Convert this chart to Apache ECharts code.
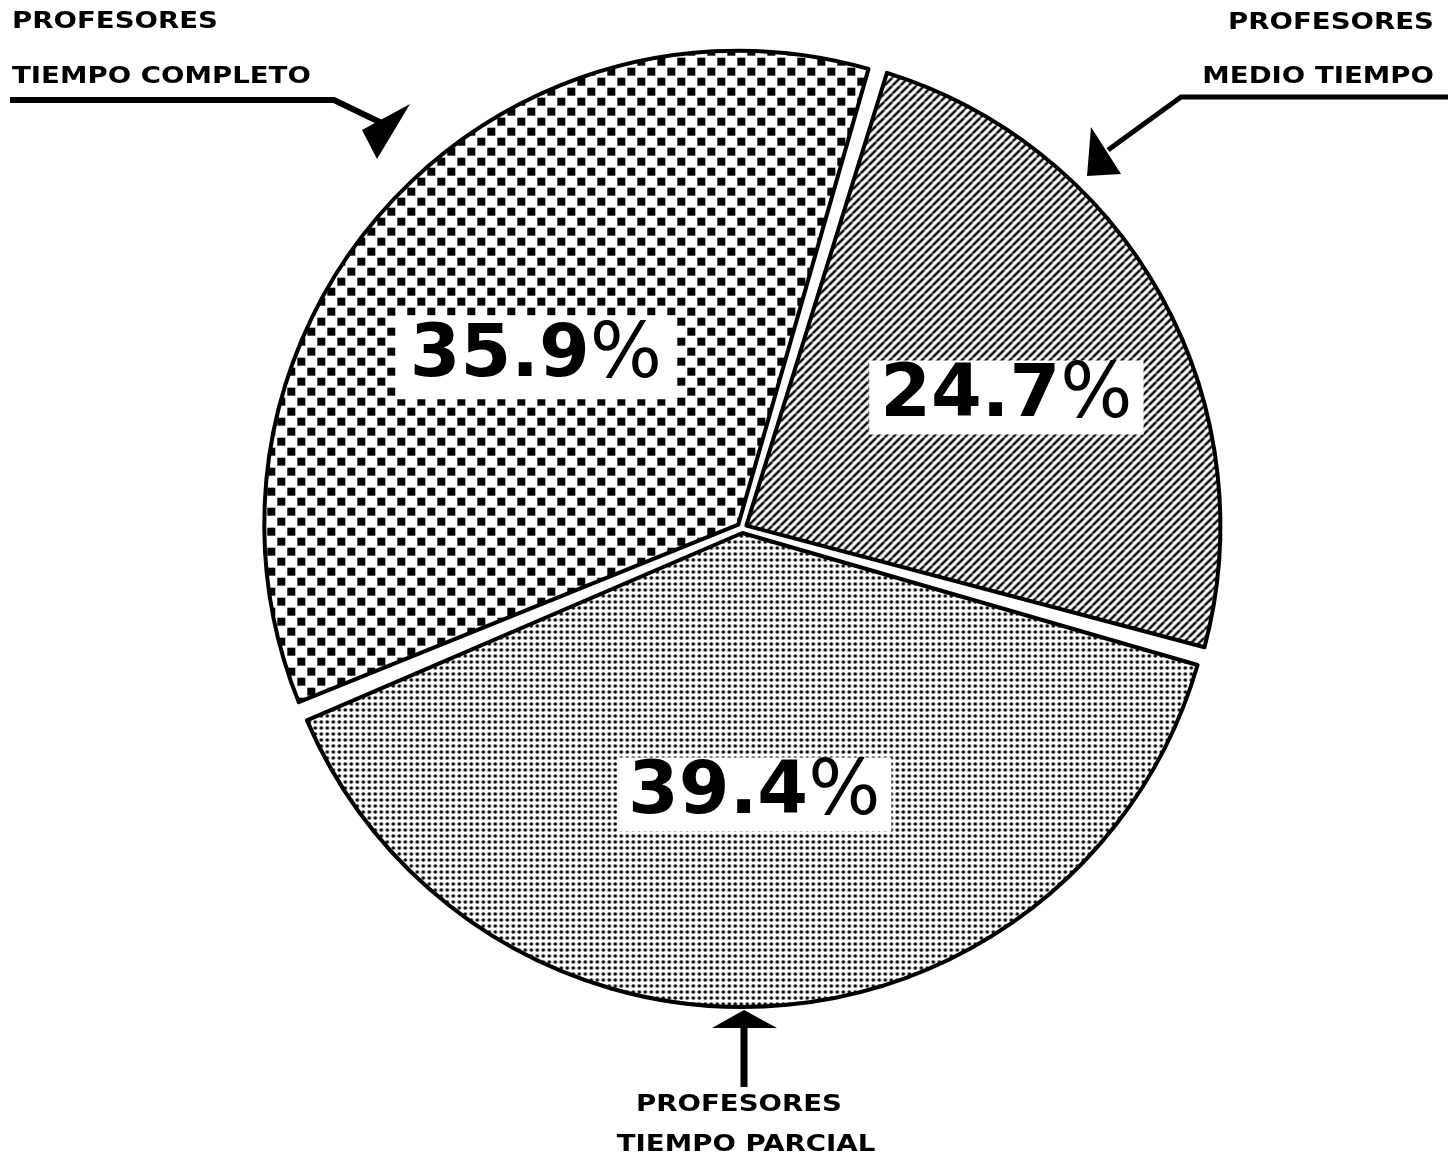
<!DOCTYPE html>
<html>
<head>
<meta charset="utf-8">
<script src="https://cdn.jsdelivr.net/npm/echarts@6/dist/echarts.min.js"></script>
<style>
    html, body { margin: 0; padding: 0; background: #fff; }
    #chart { width: 1448px; height: 1166px; }
</style>
</head>
<body>
<div id="chart"></div>
<script>
// datos del grafico
var categories = ['PROFESORES MEDIO TIEMPO', 'PROFESORES TIEMPO PARCIAL', 'PROFESORES TIEMPO COMPLETO'];
var values = [24.7, 39.4, 35.9];
// rotulos exteriores (dos lineas cada uno)
var outerTitles = [
    ['PROFESORES', 'MEDIO TIEMPO'],
    ['PROFESORES', 'TIEMPO PARCIAL'],
    ['PROFESORES', 'TIEMPO COMPLETO']
];

// desplazamiento de las etiquetas de porcentaje
var labelShift = [[50, -12], [-3, 22], [-24, -7]];
var labelPad = [[8, 11], [8, 11], [13, 14]];

/**
 * tramas en blanco y negro
 */
function makePattern(size, draw) {
    var c = document.createElement('canvas');
    c.width = size;
    c.height = size;
    var ctx = c.getContext('2d');
    ctx.fillStyle = '#fff';
    ctx.fillRect(0, 0, size, size);
    ctx.fillStyle = '#000';
    ctx.strokeStyle = '#000';
    draw(ctx, size);
    return {image: c, repeat: 'repeat'};
}

// rayado diagonal
var hatch = makePattern(8, function (ctx, s) {
    ctx.lineWidth = 2.4;
    ctx.beginPath();
    for (var k = -1; k <= 1; k++) {
        ctx.moveTo(k * s, s);
        ctx.lineTo(k * s + s, 0);
    }
    ctx.stroke();
});
// puntos finos
var dots = makePattern(6, function (ctx, s) {
    ctx.beginPath();
    ctx.arc(3, 3, 1.8, 0, Math.PI * 2);
    ctx.fill();
});
// cuadritos
var checks = makePattern(20, function (ctx, s) {
    ctx.fillRect(1, 1, 8, 8);
    ctx.fillRect(11, 11, 8, 8);
});
var fills = [hatch, dots, checks];

var seriesData = categories.map(function (name, i) {
    return {
        name: name,
        value: values[i],
        selected: true,
        itemStyle: {color: fills[i]},
        label: {padding: labelPad[i]}
    };
});

/**
 * rotulos y flechas
 */
var font = 'bold 23px "DejaVu Sans"';
function caption(x, y, text, align) {
    return {
        type: 'text', x: x, y: y, scaleX: 1.2, silent: true,
        style: {
            text: text, font: font, fill: '#000',
            align: align, verticalAlign: 'middle',
            textAlign: align, textVerticalAlign: 'middle'
        }
    };
}
function stroke(points, width) {
    return {
        type: 'polyline', silent: true,
        shape: {points: points},
        style: {stroke: '#000', lineWidth: width, fill: null}
    };
}
function head(points) {
    return {type: 'polygon', silent: true, shape: {points: points}, style: {fill: '#000'}};
}

var graphics = [
    // tiempo completo
    caption(12, 22, outerTitles[2][0], 'left'),
    caption(12, 77, outerTitles[2][1], 'left'),
    stroke([[10, 100], [334, 100], [392, 128]], 6),
    head([[410, 104], [362, 130], [377, 159]]),
    // medio tiempo
    caption(1434, 23, outerTitles[0][0], 'right'),
    caption(1434, 77, outerTitles[0][1], 'right'),
    stroke([[1448, 97], [1181, 97], [1108, 150]], 5),
    head([[1091, 127], [1087, 176], [1121, 174]]),
    // tiempo parcial
    caption(739, 1105, outerTitles[1][0], 'center'),
    caption(746, 1145, outerTitles[1][1], 'center'),
    stroke([[744, 1087], [744, 1022]], 7),
    head([[744, 1010], [712, 1028], [777, 1028]])
];

var chart = echarts.init(document.getElementById('chart'));
chart.setOption({
    backgroundColor: '#fff',
    animation: false,
    graphic: {elements: graphics},
    series: [{
        type: 'pie',
        center: [742, 528],
        radius: 474,
        startAngle: 73.4,
        clockwise: true,
        padAngle: 1.3,
        selectedMode: 'multiple',
        selectedOffset: 5,
        itemStyle: {borderColor: '#000', borderWidth: 4},
        select: {itemStyle: {borderColor: '#000', borderWidth: 4}},
        emphasis: {disabled: true},
        labelLine: {show: false},
        label: {
            show: true,
            position: 'inside',
            backgroundColor: '#fff',
            formatter: function (p) {
                return '{d|' + p.value.toFixed(1) + '}{p|%}';
            },
            rich: {
                d: {fontFamily: 'DejaVu Sans', fontWeight: 'bold', fontSize: 73, color: '#000', lineHeight: 58},
                p: {fontFamily: 'DejaVu Sans', fontWeight: 'normal', fontSize: 76, color: '#000', lineHeight: 58}
            }
        },
        labelLayout: function (params) {
            var o = labelShift[params.dataIndex];
            return {dx: o[0], dy: o[1]};
        },
        data: seriesData
    }]
});
</script>
</body>
</html>
